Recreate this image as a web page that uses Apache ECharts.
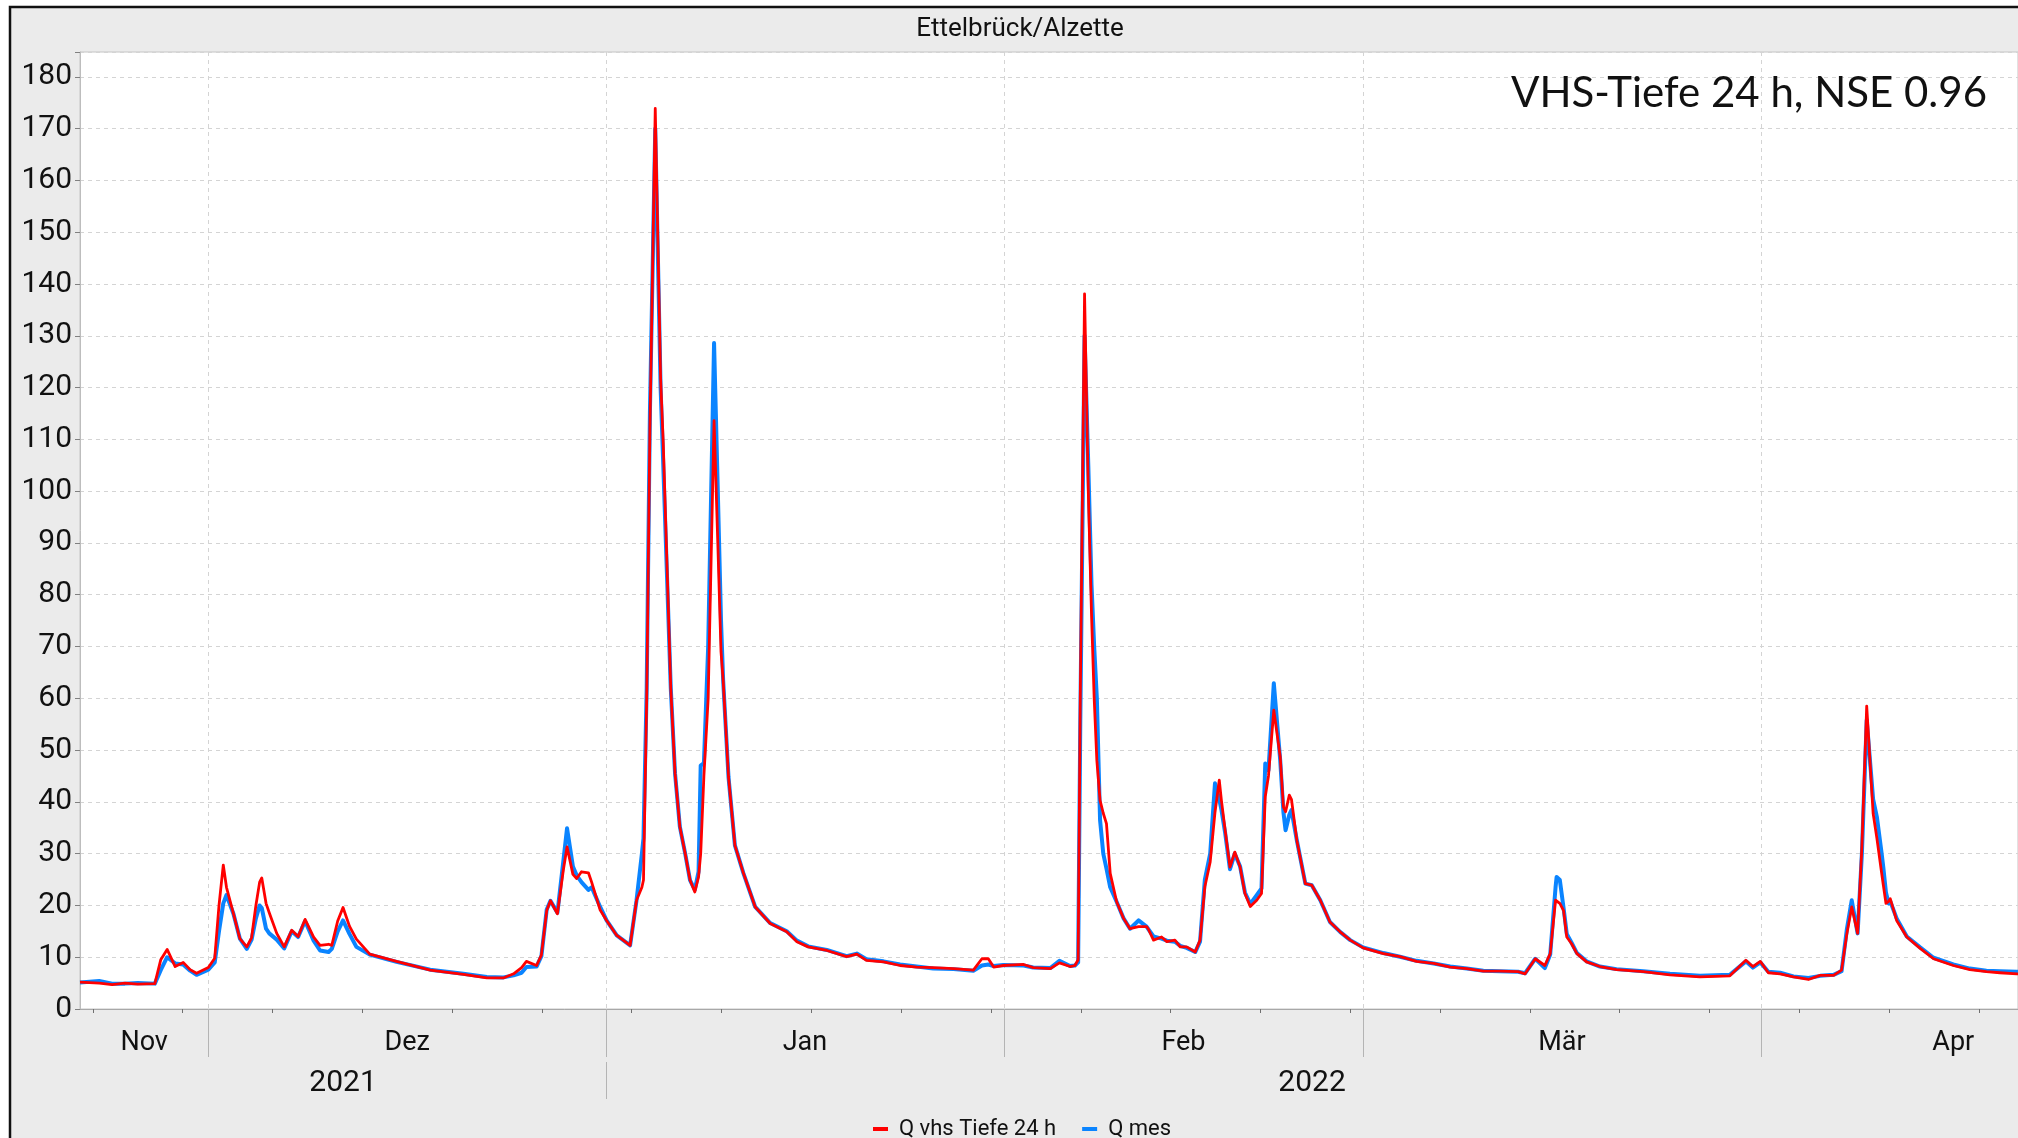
<!DOCTYPE html>
<html>
<head>
<meta charset="utf-8">
<script src="https://cdn.jsdelivr.net/npm/echarts@6/dist/echarts.min.js"></script>
<style>
  html, body { margin: 0; padding: 0; background: #ffffff; }
  #chart { width: 2018px; height: 1138px; }
</style>
</head>
<body>
<div id="chart"></div>
<script>
// Hourly discharge at Ettelbrück/Alzette, winter 2021/22 (m³/s)
const times = [
  '2021-11-21 00:00','2021-11-22 12:00','2021-11-23 12:00','2021-11-24 12:00','2021-11-25 12:00','2021-11-26 20:00',
  '2021-11-27 07:00','2021-11-27 19:00','2021-11-28 10:00','2021-11-29 01:00','2021-11-29 14:00','2021-11-30 02:00',
  '2021-12-01 00:00','2021-12-01 12:00','2021-12-01 20:00','2021-12-02 04:00','2021-12-02 10:00','2021-12-02 23:00',
  '2021-12-03 11:00','2021-12-04 00:00','2021-12-04 09:00','2021-12-04 17:00','2021-12-05 00:00','2021-12-05 04:00',
  '2021-12-05 12:00','2021-12-05 18:00','2021-12-06 08:00','2021-12-06 22:00','2021-12-07 12:00','2021-12-08 00:00',
  '2021-12-08 13:00','2021-12-09 05:00','2021-12-09 17:00','2021-12-10 09:00','2021-12-10 15:00','2021-12-11 02:00',
  '2021-12-11 12:00','2021-12-12 00:00','2021-12-12 13:00','2021-12-13 14:00','2021-12-15 16:00','2021-12-18 07:00',
  '2021-12-20 21:00','2021-12-22 17:00','2021-12-24 00:00','2021-12-24 19:00','2021-12-25 10:00','2021-12-25 19:00',
  '2021-12-26 14:00','2021-12-26 23:00','2021-12-27 09:00','2021-12-27 16:00','2021-12-28 05:00','2021-12-28 16:00',
  '2021-12-28 23:00','2021-12-29 10:00','2021-12-29 17:00','2021-12-30 02:00','2021-12-30 15:00','2021-12-30 21:00',
  '2021-12-31 13:00','2022-01-01 01:00','2022-01-01 20:00','2022-01-02 21:00','2022-01-03 09:00','2022-01-03 19:00',
  '2022-01-03 22:00','2022-01-04 04:00','2022-01-04 10:00','2022-01-04 20:00','2022-01-05 06:00','2022-01-05 11:00',
  '2022-01-06 01:00','2022-01-06 09:00','2022-01-06 18:00','2022-01-07 04:00','2022-01-07 13:00','2022-01-07 22:00',
  '2022-01-08 05:00','2022-01-08 09:00','2022-01-08 15:00','2022-01-08 23:00','2022-01-09 10:00','2022-01-09 17:00',
  '2022-01-09 23:00','2022-01-10 03:00','2022-01-10 13:00','2022-01-11 01:00','2022-01-11 17:00','2022-01-12 15:00',
  '2022-01-13 19:00','2022-01-15 02:00','2022-01-15 21:00','2022-01-16 18:00','2022-01-18 05:00','2022-01-19 18:00',
  '2022-01-20 13:00','2022-01-21 07:00','2022-01-22 15:00','2022-01-23 22:00','2022-01-25 05:00','2022-01-26 12:00',
  '2022-01-28 02:00','2022-01-29 15:00','2022-01-30 07:00','2022-01-30 19:00','2022-01-31 05:00','2022-01-31 23:00',
  '2022-02-02 13:00','2022-02-03 07:00','2022-02-04 15:00','2022-02-05 08:00','2022-02-06 04:00','2022-02-06 13:00',
  '2022-02-06 19:00','2022-02-06 23:00','2022-02-07 07:00','2022-02-07 14:00','2022-02-07 20:00','2022-02-08 01:00',
  '2022-02-08 06:00','2022-02-08 12:00','2022-02-08 18:00','2022-02-09 00:00','2022-02-09 07:00','2022-02-09 19:00',
  '2022-02-10 08:00','2022-02-10 20:00','2022-02-11 12:00','2022-02-12 03:00','2022-02-12 06:00','2022-02-12 16:00',
  '2022-02-13 07:00','2022-02-13 17:00','2022-02-14 08:00','2022-02-14 18:00','2022-02-15 06:00','2022-02-15 22:00',
  '2022-02-16 07:00','2022-02-16 16:00','2022-02-17 02:00','2022-02-17 11:00','2022-02-17 19:00','2022-02-17 23:00',
  '2022-02-18 06:00','2022-02-18 15:00','2022-02-19 00:00','2022-02-19 10:00','2022-02-19 19:00','2022-02-20 05:00',
  '2022-02-20 17:00','2022-02-21 02:00','2022-02-21 09:00','2022-02-21 15:00','2022-02-22 01:00','2022-02-22 13:00',
  '2022-02-22 19:00','2022-02-22 23:00','2022-02-23 06:00','2022-02-23 10:00','2022-02-23 20:00','2022-02-24 12:00',
  '2022-02-25 00:00','2022-02-25 16:00','2022-02-26 10:00','2022-02-27 05:00','2022-02-28 00:00','2022-03-01 00:00',
  '2022-03-02 14:00','2022-03-03 21:00','2022-03-05 04:00','2022-03-06 12:00','2022-03-07 19:00','2022-03-09 02:00',
  '2022-03-10 09:00','2022-03-11 16:00','2022-03-13 02:00','2022-03-13 15:00','2022-03-14 10:00','2022-03-15 04:00',
  '2022-03-15 14:00','2022-03-16 00:00','2022-03-16 02:00','2022-03-16 08:00','2022-03-16 15:00','2022-03-16 21:00',
  '2022-03-17 06:00','2022-03-17 16:00','2022-03-18 10:00','2022-03-19 11:00','2022-03-20 18:00','2022-03-22 20:00',
  '2022-03-24 22:00','2022-03-27 06:00','2022-03-29 14:00','2022-03-30 20:00','2022-03-31 09:00','2022-03-31 23:00',
  '2022-04-01 14:00','2022-04-02 12:00','2022-04-03 13:00','2022-04-04 17:00','2022-04-05 15:00','2022-04-06 16:00',
  '2022-04-07 07:00','2022-04-07 17:00','2022-04-08 02:00','2022-04-08 13:00','2022-04-08 21:00','2022-04-09 06:00',
  '2022-04-09 18:00','2022-04-10 01:00','2022-04-10 10:00','2022-04-10 13:00','2022-04-10 18:00','2022-04-10 23:00',
  '2022-04-11 02:00','2022-04-11 14:00','2022-04-12 09:00','2022-04-13 10:00','2022-04-14 11:00','2022-04-16 00:00',
  '2022-04-17 07:00','2022-04-18 14:00','2022-04-19 15:00','2022-04-20 23:00','2022-04-21 12:00'
];

// Simulated discharge, VHS depth 24 h
const qVhs = [
  5.2, 5.0, 4.7, 5.0, 4.8, 4.9,
  9.5, 11.5, 8.2, 9.0, 7.6, 6.9,
  8.0, 9.8, 20.0, 27.8, 23.5, 18.4,
  13.6, 12.0, 13.8, 20.0, 24.5, 25.3,
  20.4, 18.6, 14.6, 12.0, 15.2, 14.0,
  17.3, 13.9, 12.3, 12.5, 12.3, 17.0,
  19.6, 16.0, 13.5, 10.6, 9.2, 7.5,
  6.7, 6.0, 6.0, 6.8, 8.0, 9.2,
  8.4, 10.4, 19.0, 20.9, 18.4, 26.8,
  31.3, 26.0, 25.2, 26.5, 26.3, 24.5,
  19.1, 17.1, 14.2, 12.3, 21.0, 23.5,
  24.9, 60.0, 112.0, 173.9, 121.8, 109.2,
  62.0, 45.5, 35.2, 30.0, 24.9, 22.6,
  25.5, 30.0, 45.0, 60.0, 113.6, 90.0,
  69.0, 63.5, 44.8, 31.6, 26.2, 19.7,
  16.5, 14.9, 13.0, 12.0, 11.3, 10.1,
  10.6, 9.4, 9.1, 8.4, 8.1, 8.0,
  7.8, 7.5, 9.7, 9.7, 8.1, 8.4,
  8.6, 8.0, 7.8, 8.9, 8.2, 8.4,
  9.5, 60.0, 138.1, 100.0, 76.3, 60.0,
  48.0, 40.3, 37.8, 35.8, 26.2, 20.7,
  17.5, 15.5, 15.9, 15.9, 15.5, 13.3,
  13.9, 13.0, 13.3, 12.0, 12.0, 11.0,
  13.3, 23.6, 28.4, 38.0, 44.2, 40.3,
  34.5, 27.4, 30.3, 27.4, 22.3, 19.8,
  21.0, 22.3, 41.0, 45.0, 57.7, 48.7,
  39.0, 38.1, 41.3, 40.5, 32.6, 24.2,
  23.9, 21.0, 16.8, 14.9, 13.3, 11.8,
  10.7, 10.1, 9.2, 8.8, 8.1, 7.8,
  7.3, 7.3, 7.2, 6.8, 9.7, 8.4,
  10.7, 21.0, 20.8, 20.4, 19.0, 13.9,
  12.6, 10.7, 9.1, 8.2, 7.6, 7.2,
  6.6, 6.2, 6.4, 9.4, 8.2, 9.2,
  7.0, 6.8, 6.2, 5.7, 6.5, 6.5,
  7.5, 14.6, 19.7, 14.6, 31.3, 58.5,
  37.8, 33.0, 26.2, 24.0, 20.4, 20.8,
  21.3, 17.1, 13.9, 11.7, 9.7, 8.4,
  7.6, 7.2, 7.0, 6.8, 6.8
];

// Measured discharge
const qMes = [
  5.1, 5.4, 4.9, 4.9, 5.0, 4.9,
  7.5, 10.0, 8.8, 8.6, 7.4, 6.6,
  7.6, 9.0, 15.0, 20.4, 22.0, 18.4,
  13.6, 11.6, 13.4, 17.5, 20.0, 19.5,
  15.5, 14.6, 13.4, 11.7, 15.0, 13.9,
  17.0, 13.2, 11.3, 11.0, 11.6, 15.0,
  17.1, 14.5, 12.0, 10.5, 9.1, 7.6,
  6.8, 6.2, 6.1, 6.5, 7.0, 8.1,
  8.2, 10.2, 19.2, 20.9, 18.6, 28.5,
  34.9, 27.5, 25.8, 24.5, 23.0, 23.5,
  19.7, 17.1, 14.2, 12.3, 21.0, 30.0,
  33.0, 62.0, 115.0, 170.0, 120.0, 105.0,
  62.0, 45.5, 35.2, 30.0, 24.9, 23.0,
  26.5, 47.0, 47.5, 70.0, 128.6, 100.0,
  75.0, 63.5, 44.8, 31.6, 26.2, 19.7,
  16.6, 15.0, 13.2, 12.1, 11.4, 10.2,
  10.7, 9.6, 9.2, 8.6, 8.2, 7.8,
  7.7, 7.4, 8.4, 8.6, 8.3, 8.5,
  8.4, 8.0, 7.9, 9.3, 8.3, 8.4,
  9.0, 55.0, 130.0, 105.0, 82.0, 70.0,
  60.0, 36.5, 30.0, 27.1, 23.5, 20.7,
  17.5, 15.5, 17.1, 15.9, 16.2, 14.0,
  13.6, 13.2, 13.0, 12.2, 11.8, 11.0,
  13.0, 25.0, 30.0, 43.6, 40.5, 38.5,
  34.0, 27.0, 30.0, 27.5, 22.5, 20.3,
  22.0, 23.3, 47.4, 46.1, 62.9, 48.0,
  38.0, 34.5, 37.5, 38.4, 32.6, 24.2,
  23.9, 21.0, 16.8, 14.9, 13.3, 11.9,
  10.8, 10.1, 9.3, 8.8, 8.2, 7.8,
  7.4, 7.3, 7.2, 6.9, 9.7, 7.9,
  10.5, 23.5, 25.5, 24.9, 19.5, 14.5,
  12.8, 10.8, 9.2, 8.2, 7.7, 7.3,
  6.8, 6.4, 6.6, 9.2, 8.0, 9.0,
  7.2, 7.0, 6.3, 6.0, 6.4, 6.6,
  7.3, 15.5, 21.0, 14.6, 30.0, 55.8,
  40.5, 37.1, 30.0, 27.4, 22.5, 20.4,
  20.8, 17.5, 14.0, 11.9, 9.9, 8.6,
  7.8, 7.4, 7.3, 7.2, 7.1
];

// Axis labelling
const monthNames = ['Nov', 'Dez', 'Jan', 'Feb', 'Mär', 'Apr'];
const monthStarts = ['2021-11-01', '2021-12-01', '2022-01-01', '2022-02-01', '2022-03-01', '2022-04-01', '2022-05-01'];
const yearNames = ['2021', '2022'];
const yearStarts = ['2021-01-01', '2022-01-01', '2023-01-01'];
const firstMonday = '2021-11-22';
const xStart = '2021-11-21 00:00';
const xEnd = '2022-04-21 01:00';

// parse 'YYYY-MM-DD' or 'YYYY-MM-DD HH:mm' as local time
const ts = s => new Date(s.length === 10 ? s + 'T00:00' : s.replace(' ', 'T')).getTime();
const DAY = 86400000;
const xMin = ts(xStart), xMax = ts(xEnd);

// weekly ticks on Mondays
const weekTicks = [];
for (let t = ts(firstMonday); t <= xMax; t += 7 * DAY) weekTicks.push(t);

// month boundaries inside the view and centred month labels
const monthBounds = monthStarts.map(ts);
const monthTicks = monthBounds.filter(t => t > xMin && t < xMax);
const monthCenters = monthNames.map((_, i) => {
  const a = Math.max(monthBounds[i], xMin), b = monthBounds[i + 1];
  return (a + b) / 2;
});
const yearBounds = yearStarts.map(ts);
const yearTicks = yearBounds.filter(t => t > xMin && t < xMax);
const yearCenters = yearNames.map((_, i) => {
  const a = Math.max(yearBounds[i], xMin), b = Math.min(yearBounds[i + 1], xMax);
  return (a + b) / 2;
});
const nearestName = (v, centers, names) => {
  let best = 0;
  centers.forEach((c, i) => { if (Math.abs(c - v) < Math.abs(centers[best] - v)) best = i; });
  return names[best];
};

const AXIS_FONT = "'Liberation Sans Narrow', 'Roboto', sans-serif";

const chart = echarts.init(document.getElementById('chart'), null, { renderer: 'canvas' });

const xBase = { type: 'value', min: xMin, max: xMax, position: 'bottom', scale: true };

chart.setOption({
  animation: false,
  backgroundColor: '#ffffff',
  graphic: [
    {
      type: 'rect', z: -10, silent: true,
      shape: { x: 10, y: 7, width: 2100, height: 1200 },
      style: { fill: '#ebebeb', stroke: '#111111', lineWidth: 2.5 }
    },
    {
      type: 'text', z: 10, silent: true, x: 1020, y: 29,
      style: {
        text: 'Ettelbrück/Alzette', fill: '#111111', font: "26px " + AXIS_FONT,
        textAlign: 'center', textVerticalAlign: 'middle'
      }
    },
    {
      type: 'text', z: 10, silent: true, x: 1987, y: 93,
      style: {
        text: 'VHS-Tiefe 24 h, NSE 0.96', fill: '#111111', font: "42px Lato, 'Open Sans', sans-serif",
        textAlign: 'right', textVerticalAlign: 'middle'
      }
    }
  ],
  grid: {
    left: 80, top: 52, right: 0, bottom: 129,
    show: true, backgroundColor: '#ffffff', borderColor: '#c4c4c4', borderWidth: 1
  },
  legend: {
    data: ['Q vhs Tiefe 24 h', 'Q mes'],
    left: 868, top: 1113,
    icon: 'rect', itemWidth: 15, itemHeight: 4, itemGap: 26,
    textStyle: { fontFamily: AXIS_FONT, fontSize: 22, color: '#111111', padding: [0, 0, 0, 6] }
  },
  xAxis: [
    Object.assign({}, xBase, {
      axisLine: { show: true, onZero: false, lineStyle: { color: '#a8a8a8', width: 1 } },
      axisTick: { show: true, customValues: weekTicks, length: 4, lineStyle: { color: '#707070' } },
      axisLabel: { show: false },
      splitLine: { show: false }
    }),
    Object.assign({}, xBase, {
      axisLine: { show: false, onZero: false },
      axisTick: { show: true, customValues: monthTicks, length: 48, lineStyle: { color: '#b4b4b4' } },
      axisLabel: {
        show: true, customValues: monthCenters, margin: 21,
        fontFamily: AXIS_FONT, fontSize: 27, color: '#111111',
        formatter: v => nearestName(v, monthCenters, monthNames)
      },
      splitLine: { show: true, lineStyle: { color: '#d4d4d4', type: [4, 4], width: 1 } }
    }),
    Object.assign({}, xBase, {
      offset: 53,
      axisLine: { show: false, onZero: false },
      axisTick: { show: true, customValues: yearTicks, length: 37, lineStyle: { color: '#b4b4b4' } },
      axisLabel: {
        show: true, customValues: yearCenters, margin: 6,
        fontFamily: AXIS_FONT, fontSize: 30, color: '#111111',
        formatter: v => nearestName(v, yearCenters, yearNames)
      },
      splitLine: { show: false }
    })
  ],
  yAxis: {
    type: 'value', min: 0, max: 184.8, interval: 10,
    axisLine: { show: true, lineStyle: { color: '#bdbdbd' } },
    axisTick: { show: true, length: 5, lineStyle: { color: '#808080' } },
    axisLabel: {
      margin: 8, fontFamily: AXIS_FONT, fontSize: 30, color: '#111111',
      formatter: v => (Math.abs(v % 10) < 1e-6 ? String(v) : '')
    },
    splitLine: { show: true, lineStyle: { color: '#d4d4d4', type: [4, 4], width: 1 } }
  },
  series: [
    {
      name: 'Q mes', type: 'line', xAxisIndex: 0, z: 2,
      showSymbol: false, symbol: 'none',
      data: times.map((t, i) => [ts(t), qMes[i]]),
      itemStyle: { color: '#0a84ff' },
      lineStyle: { color: '#0a84ff', width: 4, join: 'round' }
    },
    {
      name: 'Q vhs Tiefe 24 h', type: 'line', xAxisIndex: 0, z: 3,
      showSymbol: false, symbol: 'none',
      data: times.map((t, i) => [ts(t), qVhs[i]]),
      itemStyle: { color: '#ff0000' },
      lineStyle: { color: '#ff0000', width: 2.8, join: 'round' }
    }
  ]
});
</script>
</body>
</html>
